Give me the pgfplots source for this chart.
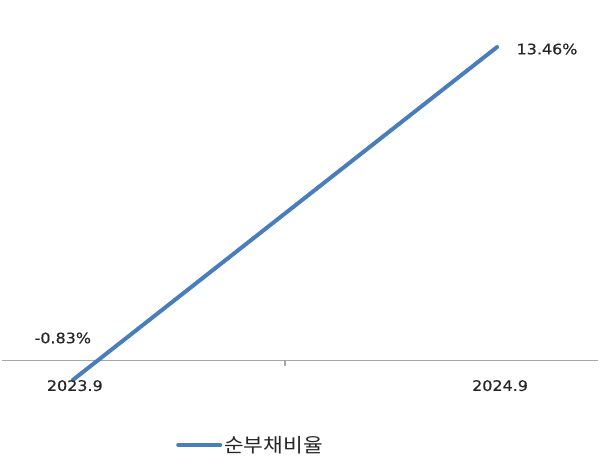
\documentclass[border=0pt]{standalone}
\usepackage{pgfplots}
\pgfplotsset{compat=1.18}
\usepackage{fontspec}
\setmainfont{DejaVu Sans}
\newfontfamily\lab[FakeStretch=1.1,FakeBold=0.4]{DejaVu Sans}
\newfontfamily\kr[FakeStretch=1.1]{Noto Sans CJK KR}
\definecolor{lineblue}{HTML}{4A7EBB}
\definecolor{axgray}{HTML}{A6A6A6}
\begin{document}
\begin{tikzpicture}[x=1pt,y=1pt]
\useasboundingbox (0,0) rectangle (600,462);
\begin{axis}[
  at={(2pt,0pt)}, anchor=south west,
  scale only axis, width=596pt, height=462pt,
  xmin=-0.167, xmax=1.238, ymin=-4.35, ymax=15.48,
  axis x line*=middle, axis y line=none,
  xtick={0.5}, xticklabels={}, xtick align=outside, major tick length=5pt,
  x tick style={axgray, line width=1.2pt},
  x axis line style={axgray, line width=1.5pt},
  clip=false,
  legend style={at={(0.292,0.037)}, anchor=west, draw=none, fill=none,
    inner sep=0pt, font=\kr\fontsize{19.5}{19.5}\selectfont, text=black!85},
  legend image code/.code={\draw[#1] (0pt,0pt) -- (42pt,0pt);},
  legend cell align=left,
]
\addplot[lineblue, line width=4pt, line cap=round] coordinates {(0,-0.83) (1,13.46)};
\addlegendentry{순부채비율}
\node[font=\lab\fontsize{14.5}{14.5}\selectfont, text=black!85] at (axis cs:0,0) [yshift=-25pt, xshift=2pt] {2023.9};
\node[font=\lab\fontsize{14.5}{14.5}\selectfont, text=black!85] at (axis cs:1,0) [yshift=-25pt, xshift=3pt] {2024.9};
\node[font=\lab\fontsize{14.5}{14.5}\selectfont, text=black!85] at (axis cs:0,-0.83) [xshift=-10pt, yshift=42pt] {-0.83\%};
\node[font=\lab\fontsize{14.5}{14.5}\selectfont, text=black!85] at (axis cs:1,13.46) [xshift=50pt, yshift=-2pt] {13.46\%};
\end{axis}
\end{tikzpicture}
\end{document}
